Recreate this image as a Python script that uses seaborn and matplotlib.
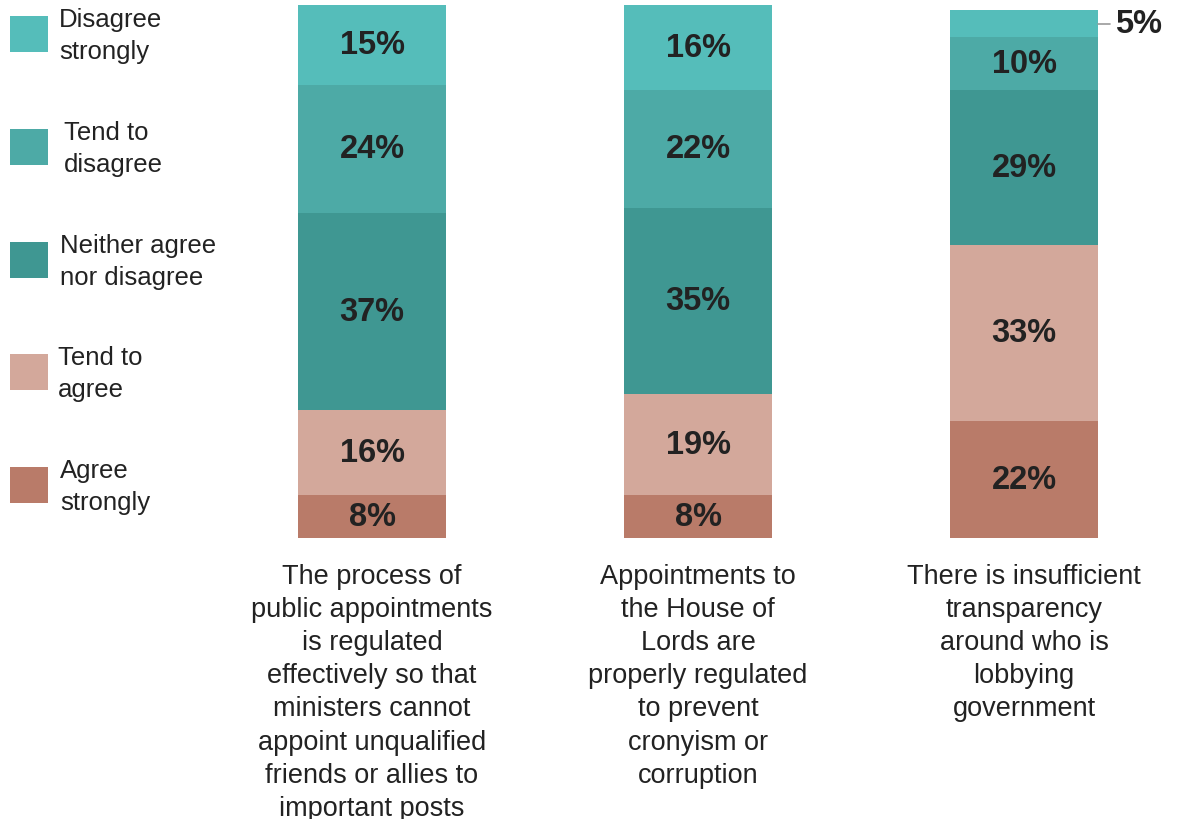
import numpy as np
import pandas as pd
import seaborn as sns
import matplotlib.pyplot as plt
from matplotlib.patches import Rectangle

# data, bottom-to-top stacking order
questions = [
    "The process of\npublic appointments\nis regulated\neffectively so that\nministers cannot\nappoint unqualified\nfriends or allies to\nimportant posts",
    "Appointments to\nthe House of\nLords are\nproperly regulated\nto prevent\ncronyism or\ncorruption",
    "There is insufficient\ntransparency\naround who is\nlobbying\ngovernment",
]
responses = ["Agree strongly", "Tend to agree", "Neither agree nor disagree",
             "Tend to disagree", "Disagree strongly"]
agree_strongly = [8, 8, 22]
tend_agree = [16, 19, 33]
neither = [37, 35, 29]
tend_disagree = [24, 22, 10]
disagree_strongly = [15, 16, 5]

legend_labels = ["Disagree\nstrongly", "Tend to\ndisagree", "Neither agree\nnor disagree",
                 "Tend to\nagree", "Agree\nstrongly"]

colors = {
    "Agree strongly": "#B97B69",
    "Tend to agree": "#D3A89B",
    "Neither agree nor disagree": "#3F9792",
    "Tend to disagree": "#4DAAA6",
    "Disagree strongly": "#55BDBA",
}

sns.set_theme(style="white")
plt.rcParams['font.family'] = ['Liberation Sans', 'DejaVu Sans']
text_col = "#222222"

df = pd.DataFrame({
    "q": [0, 1, 2],
    "Agree strongly": agree_strongly,
    "Tend to agree": tend_agree,
    "Neither agree nor disagree": neither,
    "Tend to disagree": tend_disagree,
    "Disagree strongly": disagree_strongly,
})
cum = df[responses].cumsum(axis=1)

fig = plt.figure(figsize=(11.78, 8.20), dpi=100)
ax = fig.add_axes([209 / 1178, 281 / 820, 978 / 1178, 533 / 820])

# draw cumulative totals from the top layer down so they stack
for r in responses[::-1]:
    sns.barplot(x=df["q"], y=cum[r], color=colors[r], width=148 / 326,
                saturation=1, ax=ax, native_scale=True, linewidth=0)

ax.set_xlim(-0.5, 2.5)
ax.set_ylim(0, 100)
ax.axis("off")

# segment labels
for i in range(3):
    bottom = 0
    for r in responses:
        v = df.loc[i, r]
        if v >= 8:
            ax.text(i, bottom + v / 2, f"{v}%", ha="center", va="center",
                    fontsize=23.5, fontweight="bold", color=text_col)
        bottom += v

# small-segment callout
top3 = cum.loc[2, "Disagree strongly"]
mid3 = top3 - disagree_strongly[2] / 2
ax.plot([2 + 74 / 326, 2 + 86 / 326], [mid3, mid3], color="#999999", lw=1.2,
        clip_on=False)
ax.text(2 + 91 / 326, mid3, f"{disagree_strongly[2]}%", ha="left", va="center",
        fontsize=23.5, fontweight="bold", color=text_col, clip_on=False)

# question labels under the bars
for i, q in enumerate(questions):
    ax.text(i, -4.6, q, ha="center", va="top", fontsize=19.5, color=text_col,
            linespacing=1.36, clip_on=False)

# legend on the left
sq_tops = [17, 130, 243, 355, 468]
txt_x = [59, 64, 60, 58, 60]
for lab, r, top, tx in zip(legend_labels, responses[::-1], sq_tops, txt_x):
    fig.add_artist(Rectangle((10 / 1178, 1 - (top + 36) / 820), 38 / 1178, 36 / 820,
                             transform=fig.transFigure, color=colors[r], lw=0))
    fig.text(tx / 1178, 1 - (top + 19) / 820, lab, ha="left", va="center",
             fontsize=18.5, color=text_col, linespacing=1.45)

fig.savefig("out.png", dpi=100)
